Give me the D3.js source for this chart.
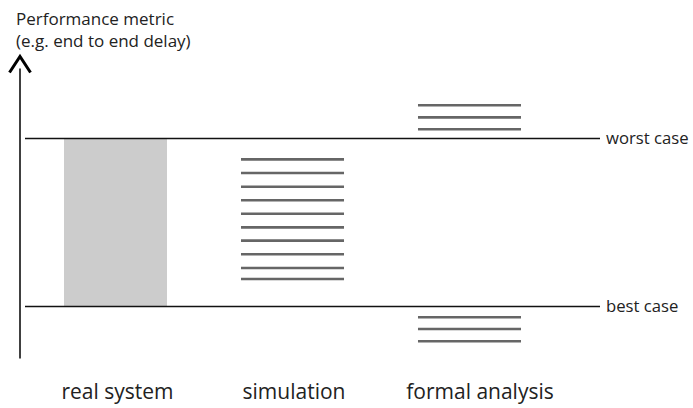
<!DOCTYPE html>
<html><head><meta charset="utf-8">
<script src="https://cdn.jsdelivr.net/npm/d3@7"></script>
<style>
body{margin:0;background:#fff;}
text{font-family:"Open Sans","Noto Sans",sans-serif;fill:#222;}
</style></head>
<body><svg id="c" width="693" height="408"></svg>
<script>
// categories
const categories = ["real system", "simulation", "formal analysis"];
// reference bounds (arbitrary metric units)
const bestCase = 0;
const worstCase = 100;
const boundLabels = ["best case", "worst case"];
// simulation observed values
const simulationValues = [87.6, 79.5, 71.3, 63.2, 55.2, 47.1, 39.2, 31.1, 22.9, 16.4];
// formal analysis bounds (upper estimates above worst case, lower below best case)
const formalUpper = [119.8, 112.6, 105.5];
const formalLower = [-6.4, -13.4, -20.7];
// axis extent
const axisExtent = [-31, 150];
const axisTitle = ["Performance metric", "(e.g. end to end delay)"];

const svg = d3.select("#c");
const y = d3.scaleLinear().domain([bestCase, worstCase]).range([306.5, 138.5]);
const x = d3.scaleBand().domain(categories).range([64, 521]).paddingInner(0.418).paddingOuter(0);

// y axis with arrow
const ay = y(axisExtent[1]) + 2;
svg.append("line").attr("x1",20).attr("x2",20)
  .attr("y1", y(axisExtent[0])).attr("y2", ay + 12)
  .attr("stroke","#000").attr("stroke-width",1.5);
svg.append("path")
  .attr("d", `M9.5,${ay+16} L20,${ay} L30.5,${ay+16}`)
  .attr("fill","none").attr("stroke","#000").attr("stroke-width",3);

// axis title
svg.append("text").attr("x",16).attr("y",25).attr("font-size",17).text(axisTitle[0]);
svg.append("text").attr("x",16).attr("y",47).attr("font-size",17).text(axisTitle[1]);

// gray real-system range
svg.append("rect")
  .attr("x", x(categories[0])).attr("width", x.bandwidth())
  .attr("y", y(worstCase)).attr("height", y(bestCase) - y(worstCase))
  .attr("fill","#cccccc");

// reference lines
[bestCase, worstCase].forEach((v,i)=>{
  svg.append("line").attr("x1",25).attr("x2",600)
    .attr("y1",y(v)).attr("y2",y(v))
    .attr("stroke","#111").attr("stroke-width",1.6);
  svg.append("text").attr("x",606).attr("y",y(v)+5.5).attr("font-size",16.7).text(boundLabels[i]);
});

// simulation lines
svg.selectAll("line.sim").data(simulationValues).join("line").attr("class","sim")
  .attr("x1", x(categories[1])).attr("x2", x(categories[1]) + x.bandwidth())
  .attr("y1", d=>y(d)).attr("y2", d=>y(d))
  .attr("stroke","#666").attr("stroke-width",2.6);

// formal analysis lines
svg.selectAll("line.fa").data(formalUpper.concat(formalLower)).join("line").attr("class","fa")
  .attr("x1", x(categories[2])).attr("x2", x(categories[2]) + x.bandwidth())
  .attr("y1", d=>y(d)).attr("y2", d=>y(d))
  .attr("stroke","#666").attr("stroke-width",2.6);

// category labels
const labelDx = [2, 1.5, 10.5];
svg.selectAll("text.cat").data(categories).join("text").attr("class","cat")
  .attr("x", (d,i)=>x(d) + x.bandwidth()/2 + labelDx[i]).attr("y", 399)
  .attr("text-anchor","middle").attr("font-size",21).text(d=>d);
</script></body></html>
